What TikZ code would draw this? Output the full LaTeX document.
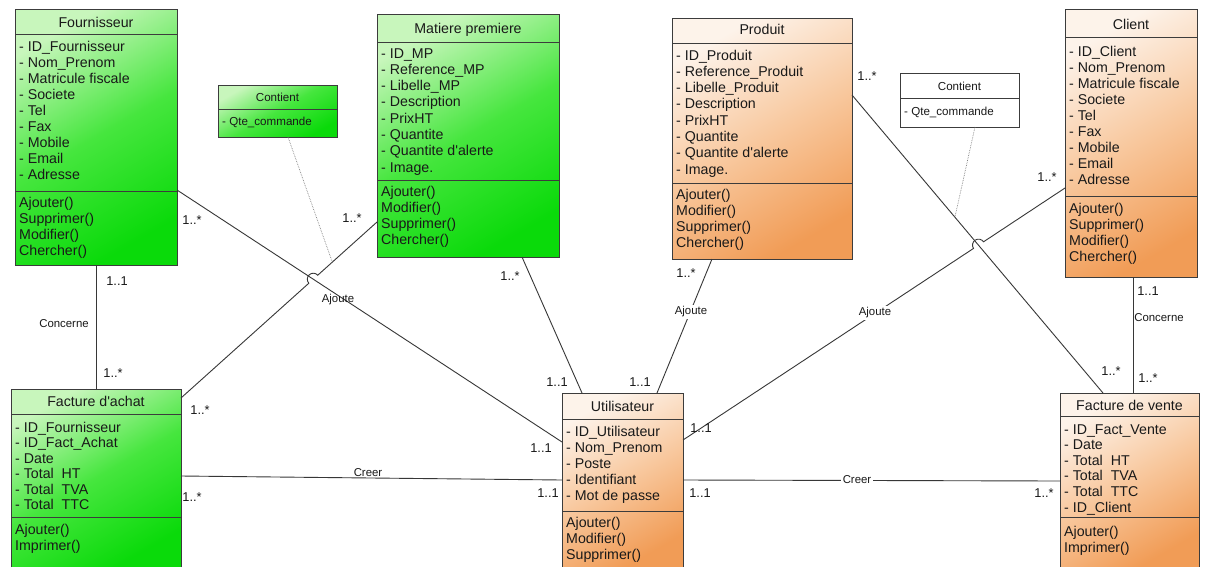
\documentclass[tikz,border=0pt]{standalone}
\usepackage{fontspec}
\setmainfont{Liberation Sans}
\usetikzlibrary{calc}

\definecolor{grLight}{RGB}{200,246,188}
\definecolor{grMid}{RGB}{70,230,62}
\definecolor{grDark}{RGB}{10,218,10}
\definecolor{orLight}{RGB}{253,243,234}
\definecolor{orMid}{RGB}{248,200,158}
\definecolor{orDark}{RGB}{241,156,86}
\definecolor{edge}{RGB}{60,60,60}
\definecolor{wire}{RGB}{55,55,55}
\definecolor{ink}{RGB}{25,25,25}

\tikzset{
  classbox/.style={draw=edge, line width=0.8pt, inner sep=0pt, outer sep=0pt,
    anchor=north west},
  greenbox/.style={classbox, top color=grLight, bottom color=grDark,
    middle color=grMid, shading angle=30},
  orangebox/.style={classbox, top color=orLight, bottom color=orDark,
    middle color=orMid, shading angle=30},
  whitebox/.style={classbox, fill=white},
  sepline/.style={draw=edge, line width=0.8pt},
  member/.style={inner sep=0pt, text=ink, anchor=base west,
    font=\fontsize{14.2}{16}\selectfont},
  ctitle/.style={inner sep=0pt, text=ink, anchor=base,
    font=\fontsize{14.2}{16}\selectfont},
  smallmember/.style={member, font=\fontsize{11.6}{13}\selectfont},
  smalltitle/.style={ctitle, font=\fontsize{11.6}{13}\selectfont},
  assoc/.style={draw=wire, line width=0.9pt},
  linkdot/.style={draw=gray, densely dotted, line width=0.7pt},
  mult/.style={inner sep=0pt, text=ink, font=\fontsize{12.8}{14}\selectfont},
  rolelbl/.style={inner sep=1pt, text=ink, font=\fontsize{11.4}{13}\selectfont},
  rolefill/.style={rolelbl, fill=white, inner sep=1.5pt}
}

% class frame: name, style, x1, y1, x2, y2, first separator
\newcommand\umlclass[7]{%
  \node[#2, minimum width={(#5-#3)*1pt}, minimum height={(#6-#4)*1pt}] (#1) at (#3,#4) {};
  \draw[sepline] (#1.west |- 0,#7) -- (#1.east |- 0,#7);
}
% extra compartment separator: name, y
\newcommand\umlsep[2]{%
  \draw[sepline] (#1.west |- 0,#2) -- (#1.east |- 0,#2);
}
% compartment lines: name prefix, style, x, first baseline, step, list
\newcommand\umllines[6]{%
  \foreach \entry [count=\i from 0] in {#6}
    \node[#2] (#1-\i) at (#3, {#4+#5*\i}) {\entry};
}

\begin{document}
\begin{tikzpicture}[x=1pt,y=-1pt]
\fill[white] (0,0) rectangle (1211,566);
\useasboundingbox (0,0) rectangle (1211,566);

% ---------- Fournisseur ----------
\umlclass{fou}{greenbox}{15}{9}{177}{265}{34}
\umlsep{fou}{191}
\node[ctitle] (fou-title) at (96,27) {Fournisseur};
\umllines{fou-a}{member}{19}{51}{16}{- ID\_Fournisseur, - Nom\_Prenom, - Matricule fiscale, - Societe, - Tel, - Fax, - Mobile, - Email, - Adresse}
\umllines{fou-o}{member}{19}{207}{16}{Ajouter(), Supprimer(), Modifier(), Chercher()}

% ---------- Matiere premiere ----------
\umlclass{mp}{greenbox}{377}{14}{559}{257}{42}
\umlsep{mp}{180}
\node[ctitle] (mp-title) at (468,33) {Matiere premiere};
\umllines{mp-a}{member}{381}{58}{16.3}{- ID\_MP, - Reference\_MP, - Libelle\_MP, - Description, - PrixHT, - Quantite, - Quantite d\textquotesingle alerte, - Image.}
\umllines{mp-o}{member}{381}{196}{16.3}{Ajouter(), Modifier(), Supprimer(), Chercher()}

% ---------- Produit ----------
\umlclass{pr}{orangebox}{672}{18}{852}{259}{43}
\umlsep{pr}{183}
\node[ctitle] (pr-title) at (762,34) {Produit};
\umllines{pr-a}{member}{676}{60}{16.3}{- ID\_Produit, - Reference\_Produit, - Libelle\_Produit, - Description, - PrixHT, - Quantite, - Quantite d\textquotesingle alerte, - Image.}
\umllines{pr-o}{member}{676}{199}{16}{Ajouter(), Modifier(), Supprimer(), Chercher()}

% ---------- Client ----------
\umlclass{cli}{orangebox}{1065}{9}{1197}{277}{37}
\umlsep{cli}{196}
\node[ctitle] (cli-title) at (1131,29) {Client};
\umllines{cli-a}{member}{1069}{56}{16}{- ID\_Client, - Nom\_Prenom, - Matricule fiscale, - Societe, - Tel, - Fax, - Mobile, - Email, - Adresse}
\umllines{cli-o}{member}{1069}{213}{16.3}{Ajouter(), Supprimer(), Modifier(), Chercher()}

% ---------- Facture d'achat ----------
\umlclass{fa}{greenbox}{11}{389}{181}{567}{414}
\umlsep{fa}{517}
\node[ctitle] (fa-title) at (96,406) {Facture d\textquotesingle achat};
\umllines{fa-a}{member}{15}{432}{15.5}{- ID\_Fournisseur, - ID\_Fact\_Achat, - Date, - Total~ HT, - Total~ TVA, - Total~ TTC}
\umllines{fa-o}{member}{15}{534}{16}{Ajouter(), Imprimer()}

% ---------- Utilisateur ----------
\umlclass{uti}{orangebox}{562}{393}{683}{567}{419}
\umlsep{uti}{511}
\node[ctitle] (uti-title) at (622.5,411) {Utilisateur};
\umllines{uti-a}{member}{566}{436}{16}{- ID\_Utilisateur, - Nom\_Prenom, - Poste, - Identifiant, - Mot de passe}
\umllines{uti-o}{member}{566}{527}{16}{Ajouter(), Modifier(), Supprimer()}

% ---------- Facture de vente ----------
\umlclass{fv}{orangebox}{1060}{393}{1199}{567}{416}
\umlsep{fv}{517}
\node[ctitle] (fv-title) at (1129.5,410) {Facture de vente};
\umllines{fv-a}{member}{1064}{434}{15.6}{- ID\_Fact\_Vente, - Date, - Total~ HT, - Total~ TVA, - Total~ TTC, - ID\_Client}
\umllines{fv-o}{member}{1064}{536}{16}{Ajouter(), Imprimer()}

% ---------- association classes ----------
\umlclass{cg}{greenbox}{218}{85}{337}{137}{109}
\node[smalltitle] (cg-title) at (277.5,101) {Contient};
\node[smallmember] (cg-a) at (222,125) {- Qte\_commande};

\umlclass{cw}{whitebox}{900}{73}{1019}{127}{98}
\node[smalltitle] (cw-title) at (959.5,90) {Contient};
\node[smallmember] (cw-a) at (904,115) {- Qte\_commande};

% ---------- connector end points ----------
\coordinate (a1) at (fou.east |- 0,190);
\coordinate (b1) at (uti.west |- 0,442);
\coordinate (a2) at (fa.east |- 0,398);
\coordinate (b2) at (mp.west |- 0,222);
\coordinate (a5) at (mp.south -| 522,0);
\coordinate (b5) at (uti.north -| 582,0);
\coordinate (a6) at (pr.south -| 712,0);
\coordinate (b6) at (uti.north -| 657,0);
\coordinate (a7) at (uti.east |- 0,440);
\coordinate (b7) at (cli.west |- 0,188);
\coordinate (a8) at (pr.east |- 0,95);
\coordinate (b8) at (fv.north -| 1103,0);
\coordinate (a11) at (fa.east |- 0,476);
\coordinate (b11) at (uti.west |- 0,480);
\coordinate (a12) at (uti.east |- 0,480);
\coordinate (b12) at (fv.west |- 0,481);

% ---------- associations ----------
% Fournisseur -- Utilisateur
\draw[assoc] (a1) -- (b1);
% Facture d'achat -- Matiere premiere, jumping over the line above
\coordinate (x12) at (intersection of a1--b1 and a2--b2);
\draw[assoc] let \p1=($(b2)-(a2)$), \n1={atan2(\y1,\x1)} in
  (a2) -- ($(x12)!6pt!(a2)$) arc[start angle=\n1+180, end angle=\n1, radius=6pt] -- (b2);
% Fournisseur -- Facture d'achat
\draw[assoc] (fou.south) -- (fa.north);
% Matiere premiere -- Utilisateur
\draw[assoc] (a5) -- (b5);
% Produit -- Utilisateur
\draw[assoc] (a6) -- (b6);
% Produit -- Facture de vente
\draw[assoc] (a8) -- (b8);
% Utilisateur -- Client, jumping over Produit -- Facture de vente
\coordinate (x78) at (intersection of a7--b7 and a8--b8);
\draw[assoc] let \p1=($(b7)-(a7)$), \n1={atan2(\y1,\x1)} in
  (a7) -- ($(x78)!6pt!(a7)$) arc[start angle=\n1+180, end angle=\n1, radius=6pt] -- (b7);
% Client -- Facture de vente
\draw[assoc] (cli.south -| 1133,0) -- (fv.north -| 1133,0);
% Creer links
\draw[assoc] (a11) -- (b11);
\draw[assoc] (a12) -- (b12);

% association-class links
\coordinate (d1) at ($(a2)!0.772!(b2)$);
\draw[linkdot] (cg.south -| 288,0) -- (d1);
\coordinate (d2) at ($(a8)!0.41!(b8)$);
\draw[linkdot] (cw.south -| 975,0) -- (d2);

% ---------- association names ----------
\node[rolelbl] (n1) at (338,300) {Ajoute};
\node[rolefill] (n6) at (691,312) {Ajoute};
\node[rolefill] (n7) at (875,313) {Ajoute};
\node[rolelbl] (n4) at (64,324) {Concerne};
\node[rolelbl] (n10) at (1159,318) {Concerne};
\node[rolelbl, anchor=south] (n11) at (368,478) {Creer};
\node[rolefill] (n12) at (857,480) {Creer};

% ---------- multiplicities ----------
\node[mult] (m1a) at (192,220) {1..*};
\node[mult] (m1b) at (541,448) {1..1};
\node[mult] (m2a) at (200,410) {1..*};
\node[mult] (m2b) at (352,218) {1..*};
\node[mult] (m4a) at (117,281) {1..1};
\node[mult] (m4b) at (113,373) {1..*};
\node[mult] (m5a) at (510,276) {1..*};
\node[mult] (m5b) at (557,382) {1..1};
\node[mult] (m6a) at (686,273) {1..*};
\node[mult] (m6b) at (640,382) {1..1};
\node[mult] (m7a) at (701,428) {1..1};
\node[mult] (m7b) at (1047,177) {1..*};
\node[mult] (m8a) at (867,76) {1..*};
\node[mult] (m8b) at (1111,371) {1..*};
\node[mult] (m10a) at (1148,291) {1..1};
\node[mult] (m10b) at (1148,378) {1..*};
\node[mult] (m11a) at (192,497) {1..*};
\node[mult] (m11b) at (548,493) {1..1};
\node[mult] (m12a) at (700,493) {1..1};
\node[mult] (m12b) at (1044,493) {1..*};
\end{tikzpicture}
\end{document}
